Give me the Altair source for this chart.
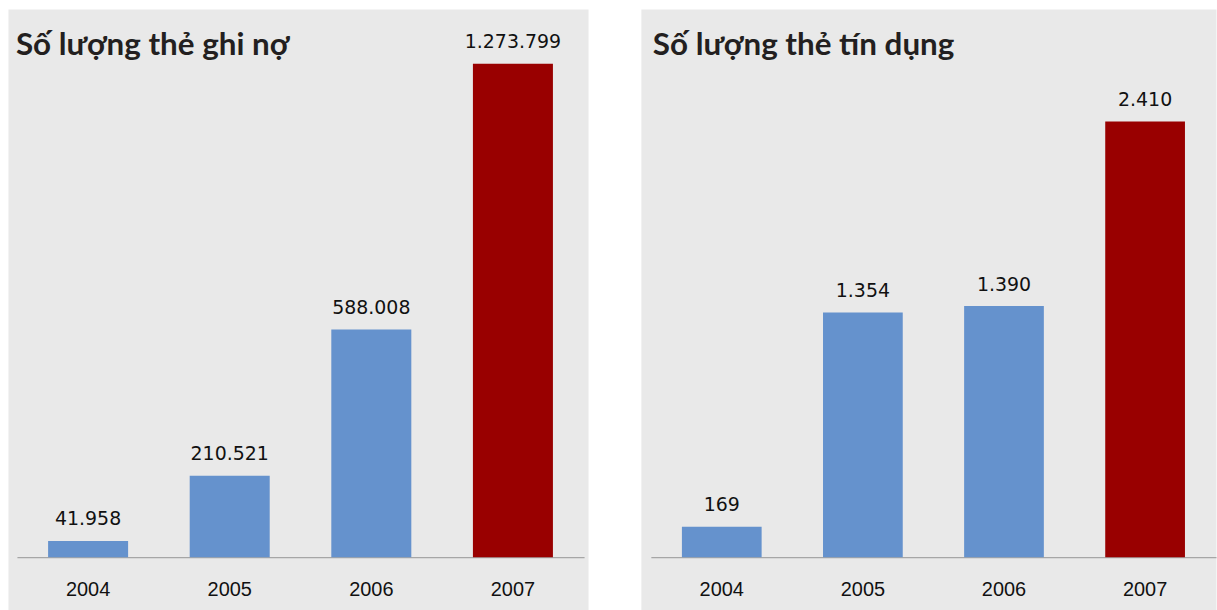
import altair as alt
import pandas as pd

years = ["2004", "2005", "2006", "2007"]
debit_cards = [41958, 210521, 588008, 1273799]
credit_cards = [169, 1354, 1390, 2410]
titles = ["Số lượng thẻ ghi nợ", "Số lượng thẻ tín dụng"]

BLUE = "#6592cd"
RED = "#990000"
BG = "#e9e9e9"


def fmt(v):
    return f"{v:,}".replace(",", ".")


def panel(values, title, width, xrange, yrange, tx):
    df = pd.DataFrame({"year": years, "value": values,
                       "label": [fmt(v) for v in values]})
    x = alt.X("year:N", sort=years,
              scale=alt.Scale(range=xrange, paddingInner=0.435, paddingOuter=0.22),
              axis=alt.Axis(title=None, labelAngle=0, ticks=False, domainColor="#a6a6a6",
                            domainWidth=1.2, labelFont="Liberation Sans", labelFontSize=20,
                            labelColor="#111111", labelPadding=38, labelBaseline="alphabetic",
                            offset=-(603 - 550), grid=False))
    y = alt.Y("value:Q", scale=alt.Scale(domain=[0, max(values)], range=yrange, nice=False),
              axis=None)
    base = alt.Chart(df)
    bars = base.mark_bar().encode(
        x=x, y=y, y2=alt.datum(0),
        color=alt.Color("year:N", scale=alt.Scale(domain=years, range=[BLUE, BLUE, BLUE, RED]),
                        legend=None))
    labels = base.mark_text(baseline="alphabetic", dy=-15.5, font="DejaVu Sans",
                            fontSize=19, color="#111111").encode(x=x, y=y, text="label:N")
    head = alt.Chart(alt.Data(values=[{"t": title}])).mark_text(
        align="left", baseline="alphabetic", font="Lato", fontSize=31.5, fontWeight="bold",
        color="#231f20").encode(x=alt.value(tx), y=alt.value(46), text="t:N")
    return alt.layer(bars, labels, head).properties(width=width, height=603)


left = panel(debit_cards, titles[0], 582, [9, 578], [550, 55], 8)
right = panel(credit_cards, titles[1], 577, [10, 577], [550, 113], 12)

chart = alt.hconcat(left, right, spacing=51).properties(
    padding={"left": 7, "top": 7, "right": 0, "bottom": 0}, background="white"
).configure_view(fill=BG, stroke="transparent")

chart.save("out.html", embed_options={"renderer": "svg", "actions": False})
